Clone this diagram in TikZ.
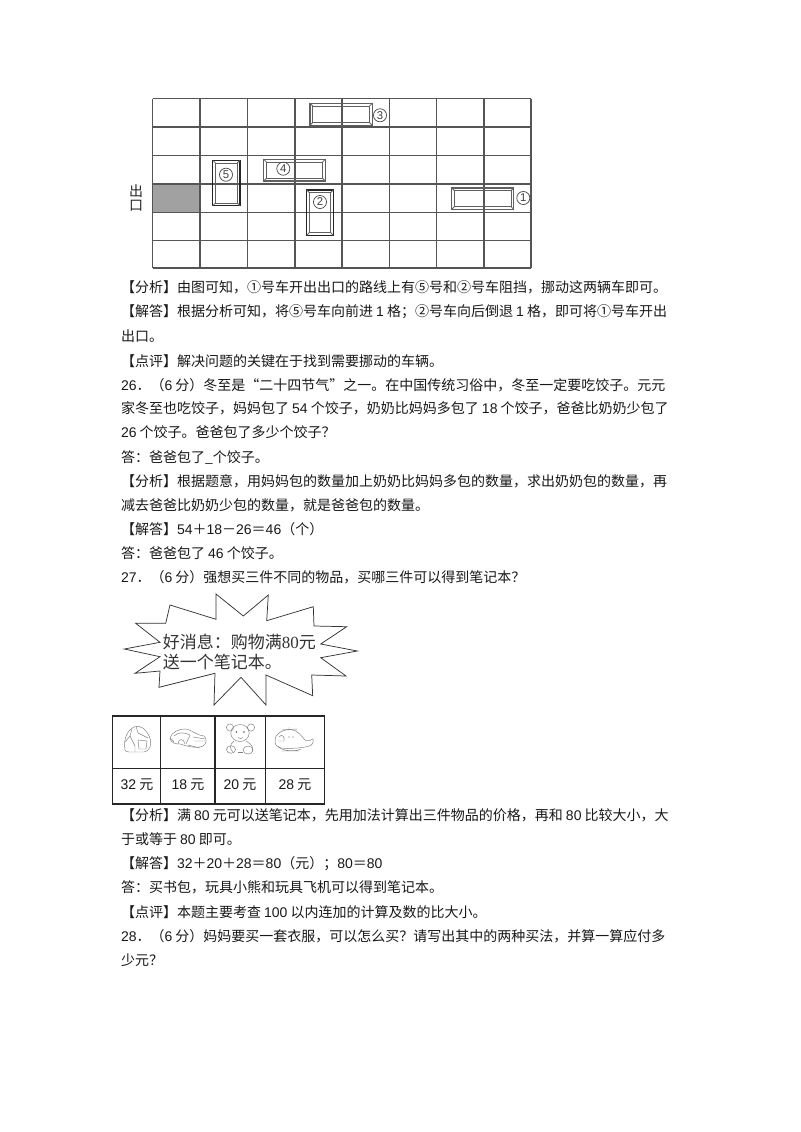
\documentclass[tikz,border=0pt]{standalone}
\usepackage{fontspec}
\setmainfont{Noto Sans CJK SC}
\newfontfamily\latf{Liberation Sans}
\newfontfamily\serf{Liberation Serif}
\newcommand\ltn[1]{{\latf #1}}
\definecolor{gridc}{HTML}{555555}
\definecolor{carc}{HTML}{606060}
\definecolor{iconc}{HTML}{808080}
\tikzset{
  txt/.style={anchor=base west,inner sep=0pt,outer sep=0pt,font=\fontsize{10.5pt}{12pt}\selectfont,text=black!90},
  gridline/.style={draw=gridc,line width=0.8pt},
  carout/.style={draw=carc,line width=0.8pt},
  carin/.style={draw=carc,line width=0.6pt},
  carbold/.style={draw=black!85,line width=1.1pt},
  carnum/.style={circle,draw=black!70,line width=0.55pt,inner sep=0pt,minimum size=9.8pt,font=\fontsize{8.5pt}{9pt}\latf,text=black!75},
  burst/.style={draw=black!80,line width=0.55pt},
  bursttxt/.style={anchor=base west,inner sep=0pt,font=\fontsize{12.75pt}{14pt}\selectfont,text=black!80},
  tab/.style={draw=black!85,line width=1pt},
  price/.style={inner sep=0pt,font=\fontsize{10.5pt}{12pt}\selectfont,text=black!90},
  icon/.style={draw=iconc,line width=0.35pt},
  exitlbl/.style={inner sep=0pt,font=\fontsize{10.5pt}{12pt}\selectfont,text=black!85},
}
\begin{document}
\begin{tikzpicture}[x=0.75pt,y=-0.75pt]
\useasboundingbox (0,0) rectangle (800,1132);
\fill[white] (0,0) rectangle (800,1132);
% grid
\fill[black!37] (152.5,184) rectangle (200,212.3);
\foreach \xx in {152.5,200,247.7,295,342,389.5,436.7,484,531}
  \draw[gridline] (\xx,98.7) -- (\xx,268);
\foreach \yy in {98.7,127,155.7,184,212.3,240.7,268}
  \draw[gridline] (152.5,\yy) -- (531,\yy);
% cars
\newcommand\mycar[5]{%
  \draw[#5] (#1,#2) rectangle (#3,#4);
  \draw[carin] ({#1+2.8},{#2+2.8}) rectangle ({#3-2.8},{#4-2.8});
  \draw[carin] (#1,#2) -- ({#1+2.8},{#2+2.8}) (#3,#2) -- ({#3-2.8},{#2+2.8}) (#1,#4) -- ({#1+2.8},{#4-2.8}) (#3,#4) -- ({#3-2.8},{#4-2.8});
}
\mycar{310}{103.3}{372.3}{125.3}{carout}
\mycar{263.7}{159.3}{325.3}{181}{carout}
\mycar{212.7}{160.3}{240}{205.7}{carbold}
\mycar{306.7}{190}{333.3}{235.3}{carbold}
\mycar{451.7}{188}{513.7}{209.3}{carout}
\node[carnum] (n3) at (380,115.3) {3};
\node[carnum] (n4) at (283.3,168.7) {4};
\node[carnum] (n5) at (226,174.7) {5};
\node[carnum] (n2) at (320,202) {2};
\node[carnum] (n1) at (523.3,198) {1};
\node[exitlbl] (exit1) at (136,191) {出};
\node[exitlbl] (exit2) at (136,205.5) {口};
% text
\node[txt] (l1) at (121,292.7) {【分析】由图可知，①号车开出出口的路线上有⑤号和②号车阻挡，挪动这两辆车即可。};
\node[txt] (l2) at (121,316.5) {【解答】根据分析可知，将⑤号车向前进 \ltn{1} 格；②号车向后倒退 \ltn{1} 格，即可将①号车开出};
\node[txt] (l3) at (121,341) {出口。};
\node[txt] (l4) at (121,366) {【点评】解决问题的关键在于找到需要挪动的车辆。};
\node[txt] (l5) at (121,390) {\ltn{26}．（\ltn{6} 分）冬至是“二十四节气”之一。在中国传统习俗中，冬至一定要吃饺子。元元};
\node[txt] (l6) at (121,413.5) {家冬至也吃饺子，妈妈包了 \ltn{54} 个饺子，奶奶比妈妈多包了 \ltn{18} 个饺子，爸爸比奶奶少包了};
\node[txt] (l7) at (121,437.5) {\ltn{26} 个饺子。爸爸包了多少个饺子？};
\node[txt] (l8) at (121,462) {答：爸爸包了\_个饺子。};
\node[txt] (l9) at (121,486) {【分析】根据题意，用妈妈包的数量加上奶奶比妈妈多包的数量，求出奶奶包的数量，再};
\node[txt] (l10) at (121,510.5) {减去爸爸比奶奶少包的数量，就是爸爸包的数量。};
\node[txt] (l11) at (121,534.5) {【解答】\ltn{54}＋\ltn{18}－\ltn{26}＝\ltn{46}（个）};
\node[txt] (l12) at (121,558.5) {答：爸爸包了 \ltn{46} 个饺子。};
\node[txt] (l13) at (121,582) {\ltn{27}．（\ltn{6} 分）强想买三件不同的物品，买哪三件可以得到笔记本？};
\node[txt] (l14) at (121,820) {【分析】满 \ltn{80} 元可以送笔记本，先用加法计算出三件物品的价格，再和 \ltn{80} 比较大小，大};
\node[txt] (l15) at (121,844) {于或等于 \ltn{80} 即可。};
\node[txt] (l16) at (121,868) {【解答】\ltn{32}＋\ltn{20}＋\ltn{28}＝\ltn{80}（元）；\ltn{80}＝\ltn{80}};
\node[txt] (l17) at (121,892.5) {答：买书包，玩具小熊和玩具飞机可以得到笔记本。};
\node[txt] (l18) at (121,917) {【点评】本题主要考查 \ltn{100} 以内连加的计算及数的比大小。};
\node[txt] (l19) at (121,941) {\ltn{28}．（\ltn{6} 分）妈妈要买一套衣服，可以怎么买？请写出其中的两种买法，并算一算应付多};
\node[txt] (l20) at (121,965) {少元？};
% starburst
\draw[burst] (216,594) -- (243.3,616) -- (268.3,595) -- (266.7,620.7) -- (313.3,606.7) -- (314,626) -- (346.7,626.7) -- (320.7,644) -- (357.3,651) -- (320.7,657.7) -- (346,676) -- (311.7,675) -- (312.7,695.7) -- (266,675) -- (266,705) -- (241,677.3) -- (214,705) -- (215,673.3) -- (159,687.3) -- (160,671) -- (135,673.3) -- (160,656.7) -- (124.3,649) -- (160,642.3) -- (135.7,623.3) -- (165.7,623.3) -- (170,605) -- (216,619.3) -- cycle;
\node[bursttxt] (b1) at (162.5,648.5) {好消息：购物满{\serf 80}元};
\node[bursttxt] (b2) at (162.5,668.5) {送一个笔记本。};
% table
\draw[tab] (112.3,716) rectangle (324.3,804);
\draw[tab] (112.3,768.3) -- (324.3,768.3);
\foreach \xx in {160.7,215,265.7} \draw[tab] (\xx,716) -- (\xx,804);
\node[price] (p1) at (137,785) {\ltn{32} 元};
\node[price] (p2) at (188,785) {\ltn{18} 元};
\node[price] (p3) at (240,785) {\ltn{20} 元};
\node[price] (p4) at (295,785) {\ltn{28} 元};
% backpack
\draw[icon] (125,750) .. controls (123,738) and (128,730) .. (134,727) .. controls (140,724) and (146,729) .. (150,738) .. controls (152,745) and (150,751) .. (144,752) -- (129,752) .. controls (127,752) and (125,751) .. (125,750);
\draw[icon] (132,729) -- (130,736) -- (135,746) -- (135,752) (136,726) -- (138,733) -- (148,738) (130,736) -- (125,742) (138,740) -- (147,741) -- (146,749) -- (139,749) -- cycle;
% car
\draw[icon] (170,738) .. controls (172,732) and (178,729) .. (186,729) .. controls (192,730) and (196,735) .. (204,736) .. controls (207,738) and (207,744) .. (203,746) .. controls (196,749) and (186,746) .. (180,744) .. controls (175,744) and (171,743) .. (170,738);
\draw[icon] (174,736) .. controls (178,732) and (184,732) .. (190,735);
\draw[icon] (178,744) .. controls (178,738) and (184,738) .. (185,744) (193,737) -- (205,739) (194,741) -- (205,741) (188,745) -- (200,748);
\draw[icon] (170,738) -- (174,742) (190,735) -- (186,744);
% bear
\draw[icon] (240,733) circle (9.2 and 8.5);
\draw[icon] (230,727.5) circle (3.6);
\draw[icon] (251,727.5) circle (3.6);
\fill[black!65] (236.5,732) circle (0.9) (244,732) circle (0.9);
\draw[icon] (238,737.5) .. controls (239,739) and (242,739) .. (243,737.5);
\draw[icon] (234,741) .. controls (229,745) and (230,749) .. (233,752) (246,741) .. controls (252,744) and (254,748) .. (252,752);
\draw[icon] (231,749.5) circle (4.5 and 3.8);
\draw[icon] (248,750) circle (5 and 4);
\draw[icon] (238,752) -- (243,752);
% helicopter
\draw[icon] (275,741) .. controls (275,733) and (283,729.5) .. (291,729.5) .. controls (298,730) and (302,737) .. (306,741) .. controls (309,741) and (311,740) .. (313,739) .. controls (314,742) and (312,746) .. (309,746) .. controls (303,748) and (290,749) .. (281,748) .. controls (277,747) and (275,745) .. (275,741);
\draw[icon] (282,730) -- (297,729) (289,727) -- (289,730);
\draw[icon] (278,746) .. controls (280,751) and (296,752) .. (301,749) (281,751) -- (299,751);
\draw[icon] (279,737) .. controls (282,733) and (285,737) .. (284,741) -- (278,741);
\fill[black!60] (289,737) circle (0.7) (293,737) circle (0.7);
\end{tikzpicture}
\end{document}
